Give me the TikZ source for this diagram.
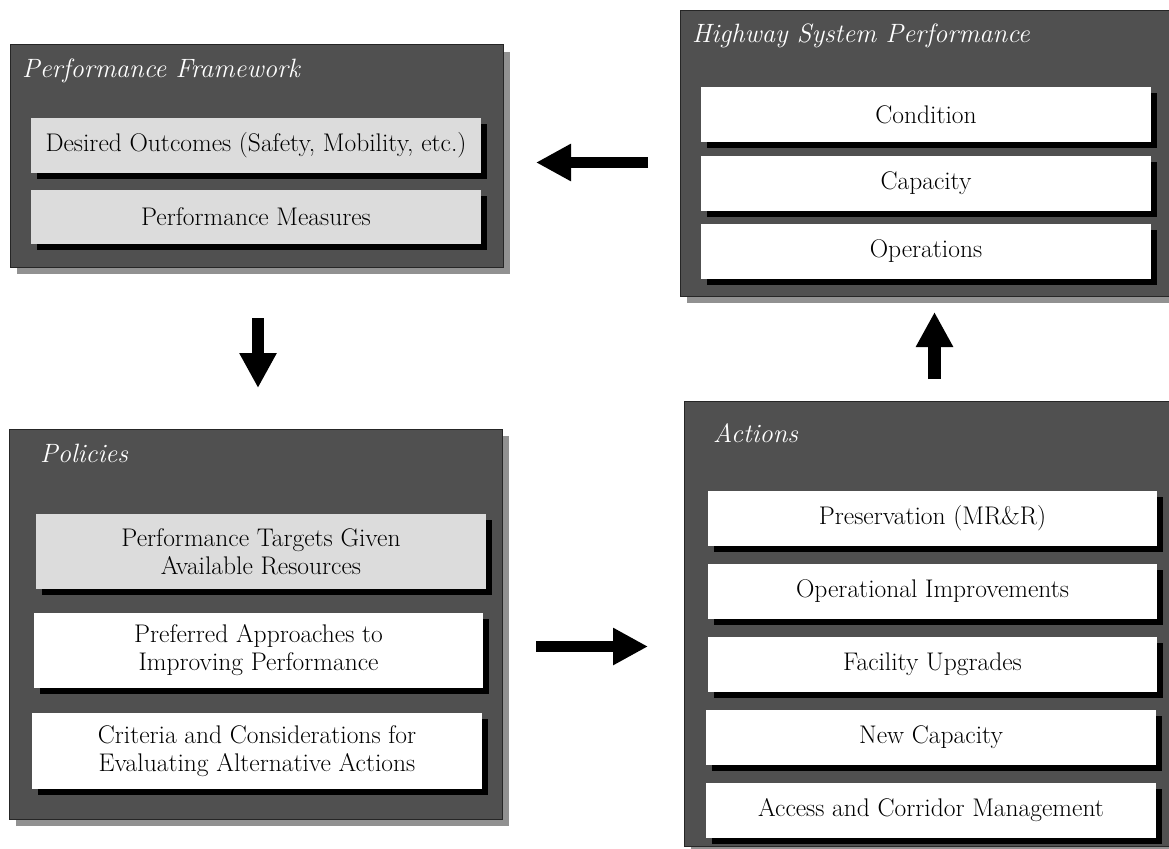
\documentclass[tikz,border=0pt]{standalone}
\usetikzlibrary{shadows,arrows.meta}
\definecolor{outerfill}{RGB}{80,80,80}
\definecolor{outershadow}{RGB}{145,145,145}
\definecolor{lightbox}{RGB}{220,220,220}
\newcommand\boxat[7]{%
  \node[#1, minimum width={(#5-#3)*1pt}, minimum height={(#6-#4)*1pt}] (#2) at ({(#3+#5)/2},{(#4+#6)/2}) {#7};}
\tikzset{
  outer/.style={draw=black!85, line width=1pt, fill=outerfill, inner sep=0pt,
    drop shadow={shadow xshift=7pt, shadow yshift=-7pt, fill=outershadow, opacity=1}},
  item/.style={fill=white, inner sep=0pt, align=center, font=\fontsize{25.5}{28}\selectfont,
    drop shadow={shadow xshift=6pt, shadow yshift=-6pt, fill=black, opacity=1}},
  grayitem/.style={item, fill=lightbox},
  title/.style={anchor=base west, text=white, font=\fontsize{26.5}{30}\selectfont\itshape, inner sep=0pt},
  bigarrow/.style={line width=11pt, -{Triangle[length=35pt,width=35pt]}},
}
\begin{document}
\begin{tikzpicture}[x=1pt,y=-1pt]
\useasboundingbox (0,0) rectangle (1169,848);
% outer panels
\boxat{outer}{pf}{10}{45}{503}{267}{}
\boxat{outer}{hs}{680}{11}{1173}{296}{}
\boxat{outer}{pol}{9}{429}{502}{819}{}
\boxat{outer}{act}{684}{401}{1177}{846}{}
% titles
\node[title] (pft) at (22,78) {Performance Framework};
\node[title] (hst) at (692,43) {Highway System Performance};
\node[title] (polt) at (40,462) {Policies};
\node[title] (actt) at (713,442) {Actions};
% performance framework items
\boxat{grayitem}{desired}{31}{118}{481}{173}{Desired Outcomes (Safety, Mobility, etc.)}
\boxat{grayitem}{measures}{31}{190}{481}{244}{Performance Measures}
% highway items
\boxat{item}{cond}{701}{87}{1151}{142}{Condition}
\boxat{item}{capa}{701}{156}{1151}{211}{Capacity}
\boxat{item}{oper}{701}{224}{1151}{279}{Operations}
% policies items
\boxat{grayitem}{targets}{36}{514}{486}{589}{Performance Targets Given\\Available Resources}
\boxat{item}{preferred}{34}{613}{483}{688}{Preferred Approaches to\\Improving Performance}
\boxat{item}{criteria}{32}{713}{482}{789}{Criteria and Considerations for\\Evaluating Alternative Actions}
% actions items
\boxat{item}{preserv}{708}{491}{1157}{546}{Preservation (MR\&R)}
\boxat{item}{opimp}{708}{564}{1157}{619}{Operational Improvements}
\boxat{item}{facil}{708}{637}{1157}{692}{Facility Upgrades}
\boxat{item}{newcap}{706}{710}{1156}{765}{New Capacity}
\boxat{item}{access}{706}{783}{1156}{838}{Access and Corridor Management}
% arrow end points
\coordinate (hsout) at (648,162.5);
\coordinate (pfin) at (536,162.5);
\coordinate (pfout) at (258,318);
\coordinate (polin) at (258,388);
\coordinate (polout) at (536,646.5);
\coordinate (actin) at (648,646.5);
\coordinate (actout) at (934.5,379);
\coordinate (hsin) at (934.5,312);
\draw[bigarrow] (hsout) -- (pfin);
\draw[bigarrow, line width=12pt] (pfout) -- (polin);
\draw[bigarrow] (polout) -- (actin);
\draw[bigarrow, line width=13pt] (actout) -- (hsin);
\end{tikzpicture}
\end{document}
